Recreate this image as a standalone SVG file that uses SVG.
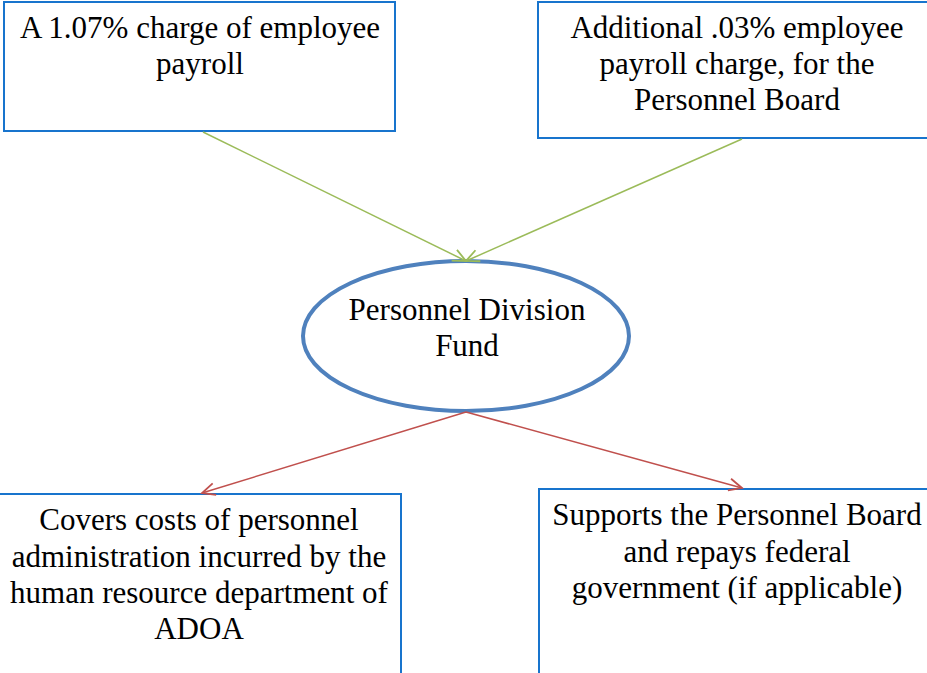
<svg xmlns="http://www.w3.org/2000/svg" width="927" height="673" viewBox="0 0 927 673">
<style>
.box{fill:#fff;stroke:#1874CD;stroke-width:2}
.t{font-family:"Liberation Serif","DejaVu Serif",serif;font-size:31px;fill:#000;text-anchor:middle}
.g{stroke:#9BBB59;stroke-width:1.5;fill:none}
.r{stroke:#C0504D;stroke-width:1.5;fill:none}
</style>
<defs>
<marker id="ag" markerUnits="userSpaceOnUse" markerWidth="16" markerHeight="16" refX="14" refY="8" orient="auto"><path d="M1,2 L14,8 L1,14" fill="none" stroke="#9BBB59" stroke-width="1.8"/></marker>
<marker id="ar" markerUnits="userSpaceOnUse" markerWidth="16" markerHeight="16" refX="14" refY="8" orient="auto"><path d="M1,2 L14,8 L1,14" fill="none" stroke="#C0504D" stroke-width="1.8"/></marker>
</defs>
<rect width="927" height="673" fill="#fff"/>
<g id="n1"><rect class="box" x="4" y="2" width="391" height="129"/>
<text class="t" x="200" y="38">A 1.07% charge of employee</text>
<text class="t" x="200" y="74">payroll</text></g>
<g id="n2"><rect class="box" x="538" y="2" width="400" height="136"/>
<text class="t" x="737" y="38">Additional .03% employee</text>
<text class="t" x="737" y="74">payroll charge, for the</text>
<text class="t" x="737" y="110">Personnel Board</text></g>
<g id="n3"><ellipse cx="466" cy="336" rx="163" ry="75" fill="#fff" stroke="#4F81BD" stroke-width="4"/>
<text class="t" x="467" y="320">Personnel Division</text>
<text class="t" x="467" y="356">Fund</text></g>
<g id="n4"><rect class="box" x="-2" y="494" width="403" height="190"/>
<text class="t" x="199" y="530">Covers costs of personnel</text>
<text class="t" x="199" y="567">administration incurred by the</text>
<text class="t" x="199" y="603">human resource department of</text>
<text class="t" x="199" y="639">ADOA</text></g>
<g id="n5"><rect class="box" x="539" y="489" width="400" height="195"/>
<text class="t" x="737" y="525">Supports the Personnel Board</text>
<text class="t" x="737" y="562">and repays federal</text>
<text class="t" x="737" y="598">government (if applicable)</text></g>
<g id="connectors">
<line class="g" x1="203" y1="132" x2="466" y2="261" marker-end="url(#ag)"/>
<line class="g" x1="742" y1="139" x2="466" y2="261" marker-end="url(#ag)"/>
<line class="r" x1="466" y1="412" x2="202" y2="493" marker-end="url(#ar)"/>
<line class="r" x1="466" y1="412" x2="742" y2="488" marker-end="url(#ar)"/>
</g>
</svg>
